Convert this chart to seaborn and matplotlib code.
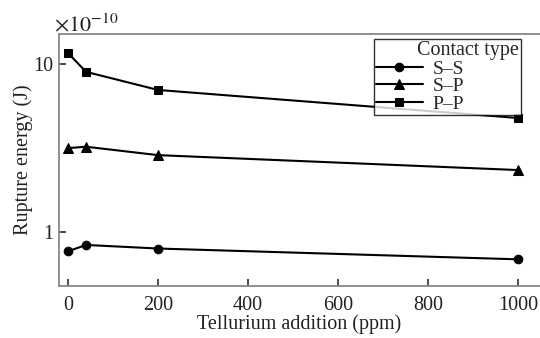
import numpy as np
import pandas as pd
import seaborn as sns
import matplotlib
matplotlib.use("Agg")
import matplotlib.pyplot as plt
from matplotlib.ticker import FixedLocator, NullLocator

tellurium = [0, 40, 200, 1000]
ss = [0.77, 0.84, 0.80, 0.69]
sp = [3.16, 3.22, 2.87, 2.34]
pp = [11.6, 8.97, 7.0, 4.77]
series_names = ["S\u2013S", "S\u2013P", "P\u2013P"]

df = pd.DataFrame({
    "x": tellurium * 3,
    "y": ss + sp + pp,
    "type": [series_names[0]] * 4 + [series_names[1]] * 4 + [series_names[2]] * 4,
})

sns.set_theme(style="ticks")
plt.rcParams["font.family"] = ["Liberation Serif", "DejaVu Serif"]
plt.rcParams["mathtext.fontset"] = "stix"

fig = plt.figure(figsize=(5.4, 3.38), dpi=100)
ax = fig.add_axes([0.1093, 0.1538, 0.8907, 0.7456])

sns.lineplot(data=df, x="x", y="y", hue="type", style="type",
             markers={series_names[0]: "o", series_names[1]: "^", series_names[2]: "s"},
             dashes=False, palette=["black"] * 3, markersize=6.2, linewidth=1.5,
             markeredgecolor="black", ax=ax)
for ln in ax.lines:
    if ln.get_marker() == "^":
        ln.set_markersize(7.5)

ax.set_yscale("log")
ax.set_ylim(0.479, 15.05)
ax.set_xlim(-20, 1049)
ax.yaxis.set_major_locator(FixedLocator([1, 10]))
ax.yaxis.set_minor_locator(NullLocator())
ax.set_yticklabels(["1", "10"])
ax.set_xticks([0, 200, 400, 600, 800, 1000])
ax.tick_params(direction="in", labelsize=14.5, length=5, colors="#333333",
               labelcolor="#222222")
ax.tick_params(axis="x", pad=7)
ax.tick_params(axis="y", pad=4)
ax.spines["right"].set_visible(False)
for s in ["left", "bottom", "top"]:
    ax.spines[s].set_color("#888888")
    ax.spines[s].set_linewidth(1.3)

ax.set_xlabel("Tellurium addition (ppm)", fontsize=14.5, color="#222222", labelpad=0)
ax.set_ylabel("Rupture energy (J)", fontsize=14.5, color="#222222", labelpad=0)
fig.text(54 / 540, 1 - 31 / 338, r"$\times10^{-10}$", fontsize=16,
         ha="left", va="baseline", color="#222222")

leg_w = 147 / 540
leg_h = 66 / 338
leg = ax.legend(title="Contact type", loc="upper left",
                bbox_to_anchor=(374 / 540, 1 - 39 / 338 - leg_h, leg_w, leg_h),
                bbox_transform=fig.transFigure, mode="expand",
                fontsize=14, title_fontsize=14.5,
                frameon=True, fancybox=False, edgecolor="black", borderaxespad=0.0,
                handlelength=2.4, handletextpad=0.5, labelspacing=0.0, borderpad=0.1)
leg.get_frame().set_linewidth(1.0)
leg._legend_box.align = "right"
for h in leg.legend_handles:
    if hasattr(h, "get_marker") and h.get_marker() == "^":
        h.set_markersize(7.5)

fig.savefig("out.png", dpi=100)
